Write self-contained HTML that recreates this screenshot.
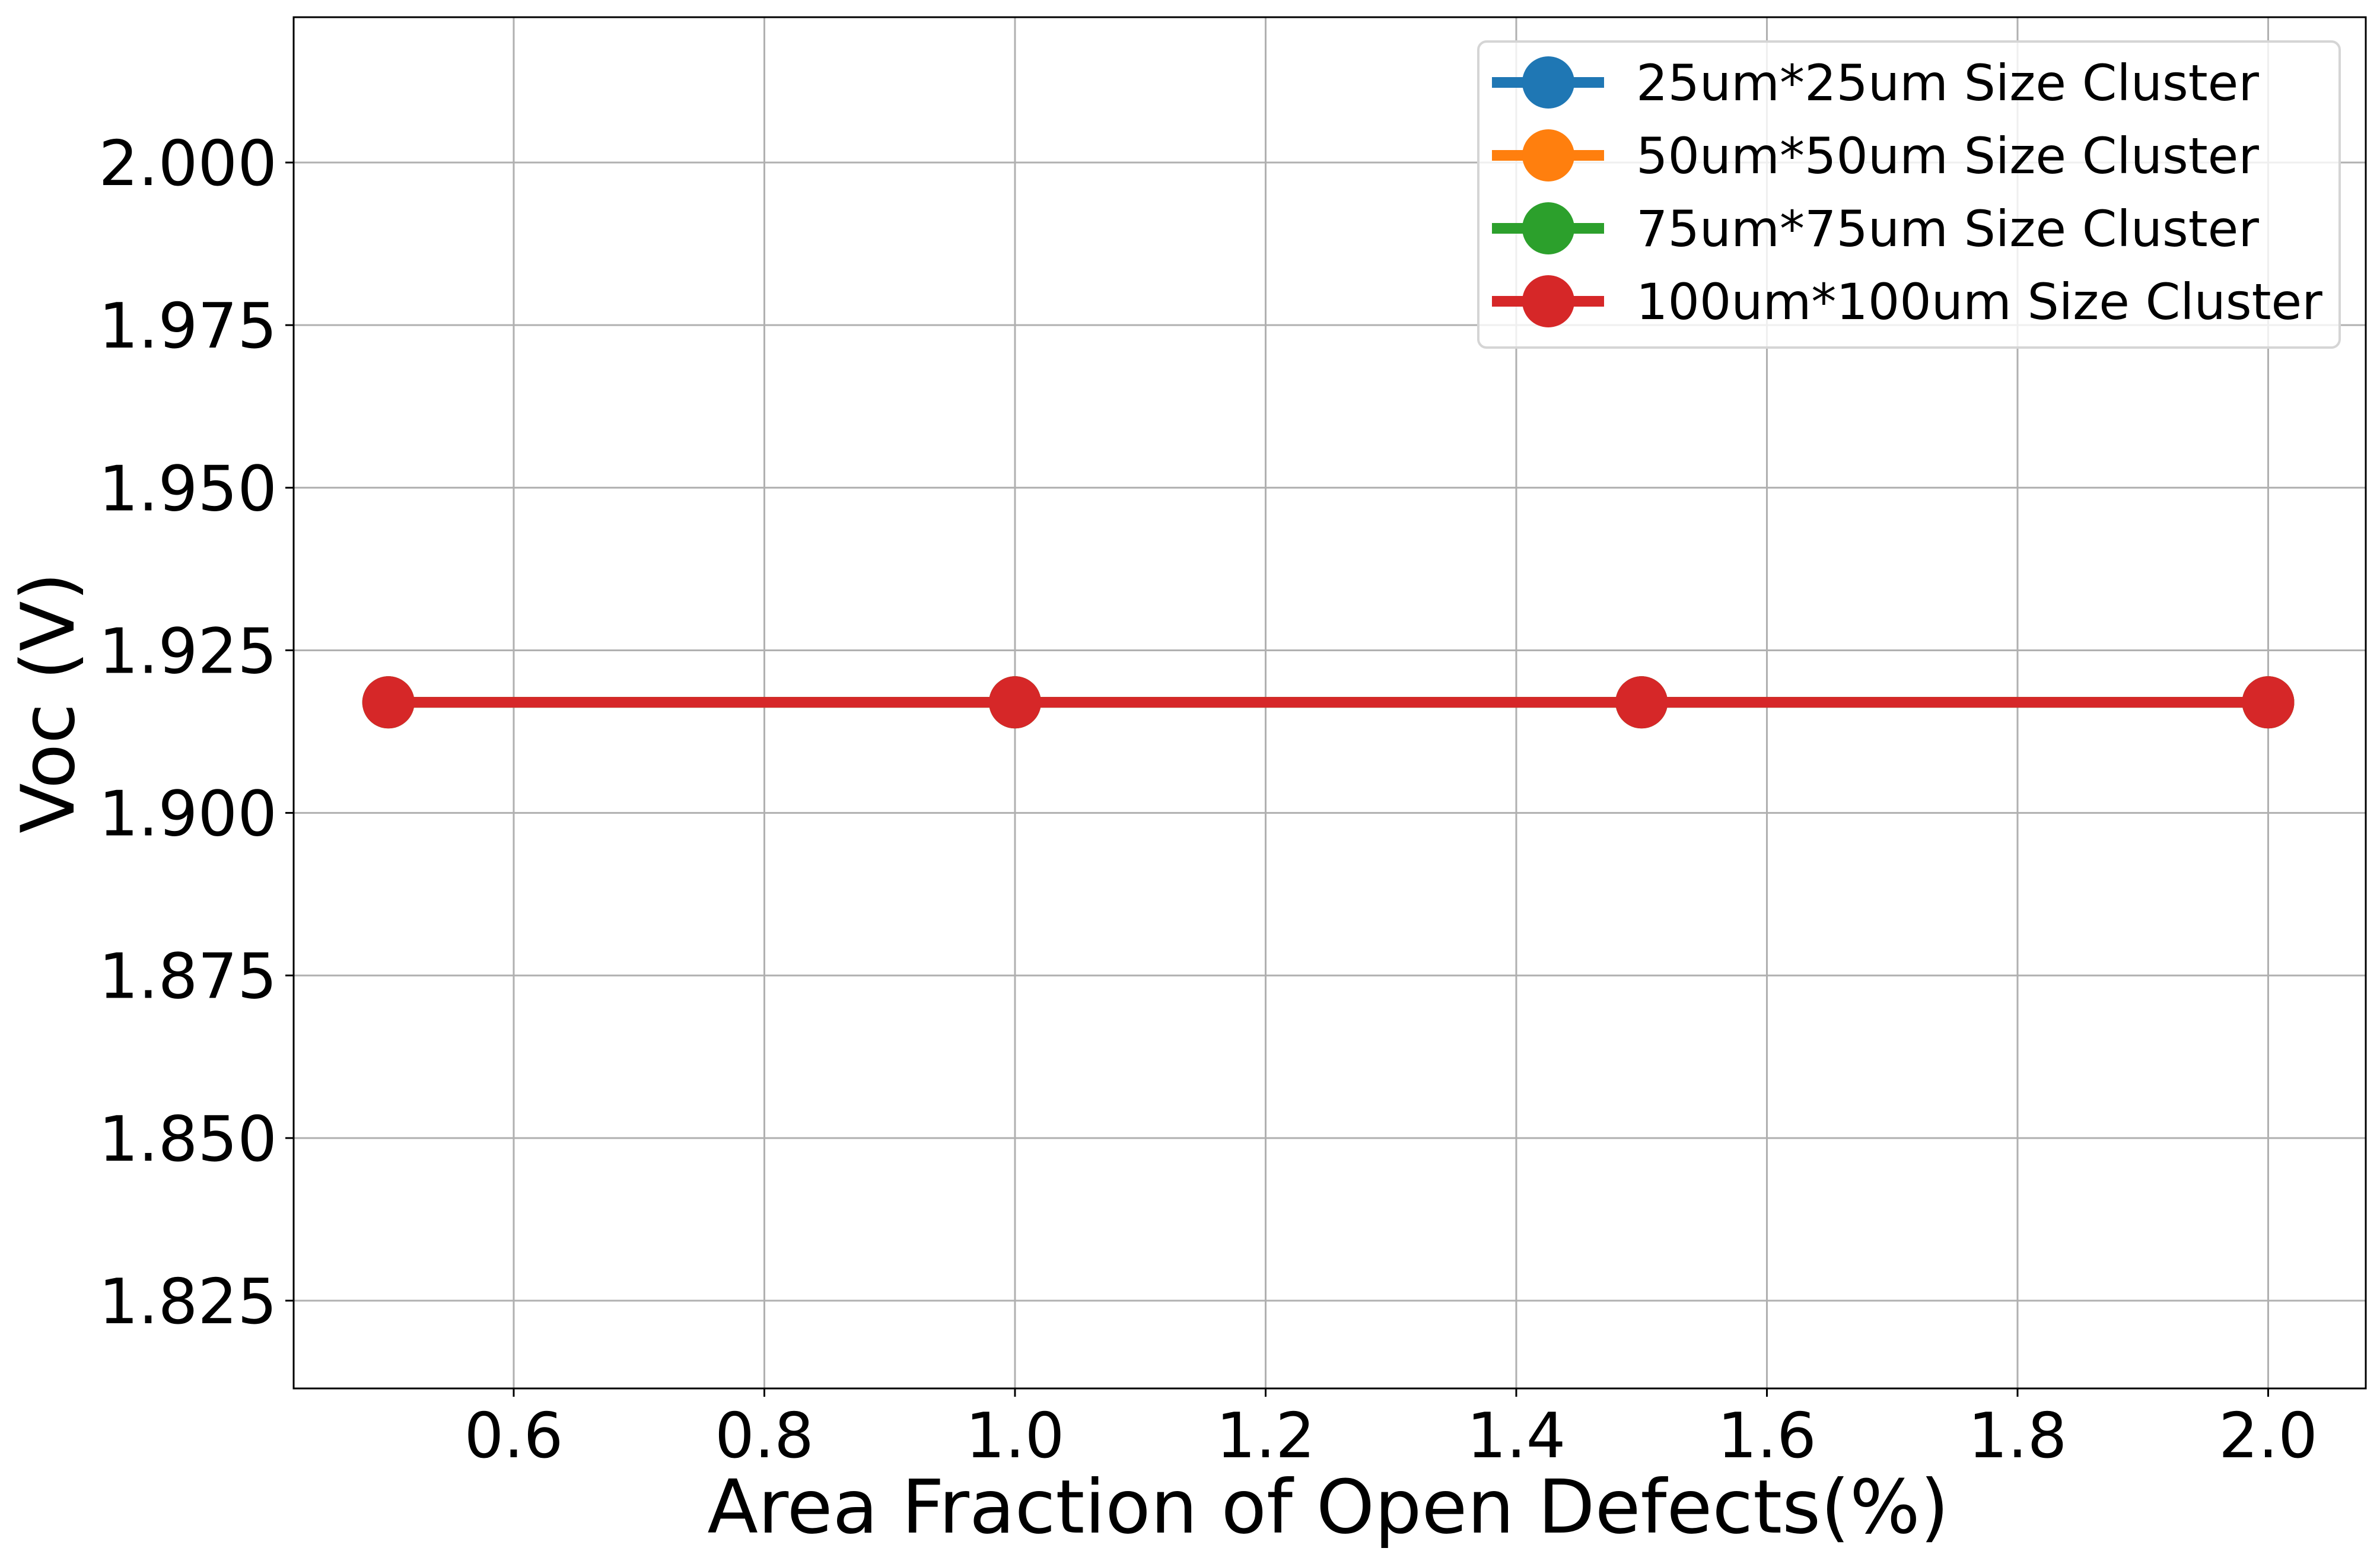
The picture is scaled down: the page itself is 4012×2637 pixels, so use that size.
<!DOCTYPE html>
<html><head><meta charset="utf-8"><style>
html,body{margin:0;padding:0;background:#fff;}
svg{display:block;font-family:"DejaVu Sans","Liberation Sans",sans-serif;}
</style></head><body>
<svg id="chart" width="4012" height="2637" viewBox="0 0 4012 2637" xmlns="http://www.w3.org/2000/svg"></svg>
<script>
const xValues = [0.5, 1.0, 1.5, 2.0];
const series25 = [1.917, 1.917, 1.917, 1.917];
const series50 = [1.917, 1.917, 1.917, 1.917];
const series75 = [1.917, 1.917, 1.917, 1.917];
const series100 = [1.917, 1.917, 1.917, 1.917];
const seriesNames = ["25um*25um Size Cluster","50um*50um Size Cluster","75um*75um Size Cluster","100um*100um Size Cluster"];
const xTicks = [0.6, 0.8, 1.0, 1.2, 1.4, 1.6, 1.8, 2.0];
const xTickLabels = ["0.6","0.8","1.0","1.2","1.4","1.6","1.8","2.0"];
const yTicks = [1.825, 1.85, 1.875, 1.9, 1.925, 1.95, 1.975, 2.0];
const yTickLabels = ["1.825","1.850","1.875","1.900","1.925","1.950","1.975","2.000"];

const svg = document.getElementById('chart');
const NS = 'http://www.w3.org/2000/svg';
const L = 495, R = 3988, T = 29, B = 2341;
const xMin = 0.4244, xMax = 0.6 + (R - 866) / 2112.5;
const yMin = 1.825 - (B - 2193) / 10964, yMax = 2.0 + (274 - T) / 10964;
const sx = v => L + (v - xMin) / (xMax - xMin) * (R - L);
const sy = v => B - (v - yMin) / (yMax - yMin) * (B - T);
function mk(tag, attrs, parent) {
  const e = document.createElementNS(NS, tag);
  for (const k in attrs) e.setAttribute(k, attrs[k]);
  (parent || svg).appendChild(e);
  return e;
}
const grid = mk('g', {});


xTicks.forEach((v, i) => {
  const x = sx(v);
  const gl = mk('line', {x1: x, x2: x, y1: T, y2: B, stroke: '#b0b0b0', 'stroke-width': 3}, grid);
  
  
  mk('line', {x1: x, x2: x, y1: B, y2: B + 14, stroke: '#000', 'stroke-width': 3});
  const t = mk('text', {x: x, y: B + 116, 'font-size': 105, 'text-anchor': 'middle', fill: '#000'});
  t.textContent = xTickLabels[i];
  
  
});
yTicks.forEach((v, i) => {
  const y = sy(v);
  const gl = mk('line', {x1: L, x2: R, y1: y, y2: y, stroke: '#b0b0b0', 'stroke-width': 3}, grid);
  
  
  mk('line', {x1: L - 14, x2: L, y1: y, y2: y, stroke: '#000', 'stroke-width': 3});
  const t = mk('text', {x: L - 28, y: y + 38, 'font-size': 105, 'text-anchor': 'end', fill: '#000'});
  t.textContent = yTickLabels[i];
  
  
});
const colors = ['#1f77b4', '#ff7f0e', '#2ca02c', '#d62728'];
[series25, series50, series75, series100].forEach((s, si) => {
  const g = mk('g', {});
  
  
  const pts = xValues.map((x, i) => sx(x) + ',' + sy(s[i])).join(' ');
  const pl = mk('polyline', {points: pts, fill: 'none', stroke: colors[si], 'stroke-width': 18}, g);
  
  
  xValues.forEach((x, i) => {
    const c = mk('circle', {cx: sx(x), cy: sy(s[i]), r: 44, fill: colors[si]}, g);
    
    
  });
});
const frame = mk('rect', {x: L, y: T, width: R - L, height: B - T, fill: 'none', stroke: '#000', 'stroke-width': 3});


const leg = mk('g', {});


mk('rect', {x: 2492, y: 70, width: 1452, height: 516, rx: 14, fill: 'rgba(255,255,255,0.8)', stroke: '#d5d5d5', 'stroke-width': 4}, leg);
seriesNames.forEach((n, i) => {
  const y = 139 + i * 123;
  const e = mk('g', {}, leg);
  
  
  mk('line', {x1: 2515, x2: 2704, y1: y, y2: y, stroke: colors[i], 'stroke-width': 18}, e);
  mk('circle', {cx: 2610, cy: y, r: 44, fill: colors[i]}, e);
  const t = mk('text', {x: 2758, y: y + 30, 'font-size': 84, fill: '#000'}, e);
  t.textContent = n;
});
const xl = mk('text', {x: 2239, y: 2584, 'font-size': 125, 'text-anchor': 'middle', fill: '#000'});
xl.textContent = 'Area Fraction of Open Defects(%)';


const yl = mk('text', {x: 0, y: 0, 'font-size': 124, 'text-anchor': 'middle', fill: '#000', transform: 'translate(124,1185) rotate(-90)'});
yl.textContent = 'Voc (V)';


</script>
</body></html>
